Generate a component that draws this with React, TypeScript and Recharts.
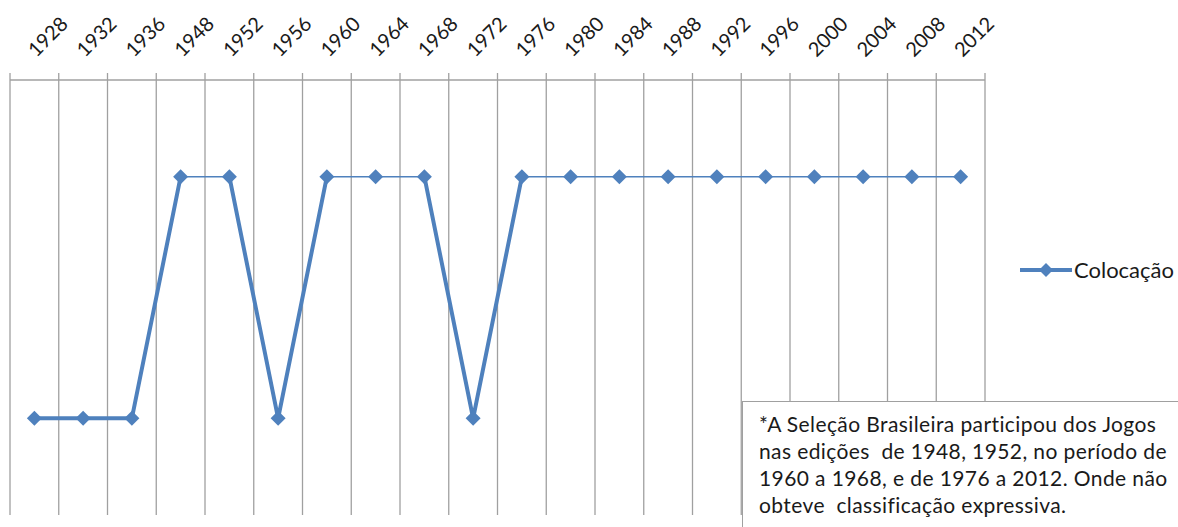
import { LineChart, Line, XAxis, YAxis, CartesianGrid, Legend } from 'recharts';

const BLUE = '#4f81bd';
const GRID = '#a0a0a0';
const FONT = 'Lato, "Open Sans", sans-serif';

const years = [
  '1928', '1932', '1936', '1948', '1952', '1956', '1960', '1964', '1968', '1972',
  '1976', '1980', '1984', '1988', '1992', '1996', '2000', '2004', '2008', '2012',
];

// 1 = classificação expressiva, 0 = não obteve
const placement = [0, 0, 0, 1, 1, 0, 1, 1, 1, 0, 1, 1, 1, 1, 1, 1, 1, 1, 1, 1];

const noteLines = [
  '*A Seleção Brasileira participou dos Jogos',
  'nas edições  de 1948, 1952, no período de',
  '1960 a 1968, e de 1976 a 2012. Onde não',
  'obteve  classificação expressiva.',
];

// the drops are drawn with a heavier stroke than the flat top runs
function lowRuns(vals: number[]) {
  const runs: [number, number][] = [];
  let i = 0;
  while (i < vals.length) {
    if (vals[i] === 0) {
      let j = i;
      while (j + 1 < vals.length && vals[j + 1] === 0) j++;
      runs.push([Math.max(i - 1, 0), Math.min(j + 1, vals.length - 1)]);
      i = j + 1;
    } else {
      i++;
    }
  }
  return runs;
}

const runs = lowRuns(placement);

const data = years.map((year, i) => {
  const row: Record<string, number | string | null> = { x: i, year, placement: placement[i] };
  runs.forEach(([a, b], k) => {
    row[`seg${k}`] = i >= a && i <= b ? placement[i] : null;
  });
  return row;
});

const labelTicks = years.map((_, i) => i);
const boundaryTicks = [...years.map((_, i) => i - 0.5), years.length - 0.5];
const allTicks = [...labelTicks, ...boundaryTicks].sort((a, b) => a - b);

function YearTick(props: any) {
  const { x, y, payload } = props;
  const v = payload.value;
  if (!Number.isInteger(v)) {
    return <line x1={x} y1={y} x2={x} y2={y + 7} stroke={GRID} strokeWidth={1.3} />;
  }
  const tx = x + 2;
  const ty = y - 15;
  return (
    <text
      x={tx}
      y={ty}
      transform={`rotate(-45 ${tx} ${ty})`}
      textAnchor="start"
      fontFamily={FONT}
      fontSize={20}
      fill="#1a1a1a"
    >
      {years[v]}
    </text>
  );
}

function Diamond(props: any) {
  const { cx, cy } = props;
  if (cx == null || cy == null) return null;
  const r = 7.5;
  return (
    <polygon
      points={`${cx},${cy - r} ${cx + r},${cy} ${cx},${cy + r} ${cx - r},${cy}`}
      fill={BLUE}
    />
  );
}

function LegendBox(props: any) {
  const entry = (props.payload || [])[0];
  if (!entry) return null;
  return (
    <div style={{ display: 'flex', alignItems: 'center', fontFamily: FONT, fontSize: 22, color: '#1a1a1a' }}>
      <svg width={56} height={18}>
        <line x1={2} y1={9} x2={54} y2={9} stroke={BLUE} strokeWidth={4} />
        <polygon points="28,2 35,9 28,16 21,9" fill={BLUE} />
      </svg>
      <span>{entry.value}</span>
    </div>
  );
}

export default function App() {
  return (
    <div style={{ position: 'relative', width: 1178, height: 527, overflow: 'hidden', background: '#fff' }}>
      <style>{'body{margin:0}'}</style>
      <LineChart width={1178} height={527} data={data} margin={{ top: 0, right: 193, bottom: 12, left: 10 }}>
        <CartesianGrid vertical horizontal={false} verticalValues={boundaryTicks} stroke={GRID} strokeWidth={1.3} />
        <XAxis
          dataKey="x"
          type="number"
          orientation="top"
          domain={[-0.5, years.length - 0.5]}
          ticks={allTicks}
          interval={0}
          height={80}
          tickSize={7}
          tickMargin={0}
          tickLine={false}
          axisLine={{ stroke: GRID, strokeWidth: 1.3 }}
          tick={<YearTick />}
        />
        <YAxis hide type="number" domain={[-0.4, 1.4]} allowDataOverflow />
        {runs.map((_, k) => (
          <Line
            key={k}
            dataKey={`seg${k}`}
            stroke={BLUE}
            strokeWidth={4}
            dot={false}
            activeDot={false}
            legendType="none"
            connectNulls={false}
            isAnimationActive={false}
          />
        ))}
        <Line
          dataKey="placement"
          name="Colocação"
          stroke={BLUE}
          strokeWidth={1.5}
          dot={<Diamond />}
          activeDot={false}
          isAnimationActive={false}
        />
        <Legend
          layout="horizontal"
          align="center"
          verticalAlign="middle"
          content={<LegendBox />}
          wrapperStyle={{ left: 1018, top: 256, right: 'auto', bottom: 'auto', width: 'auto' }}
        />
      </LineChart>
      <div
        style={{
          position: 'absolute',
          left: 742,
          top: 401,
          width: 480,
          height: 160,
          border: `1.3px solid ${GRID}`,
          background: '#fff',
          padding: '8px 0 0 16px',
          boxSizing: 'border-box',
          fontFamily: FONT,
          fontSize: 21,
          letterSpacing: 0.4,
          lineHeight: '27px',
          color: '#1a1a1a',
          whiteSpace: 'pre',
        }}
      >
        {noteLines.map((l, i) => (
          <div key={i}>{l}</div>
        ))}
      </div>
    </div>
  );
}
